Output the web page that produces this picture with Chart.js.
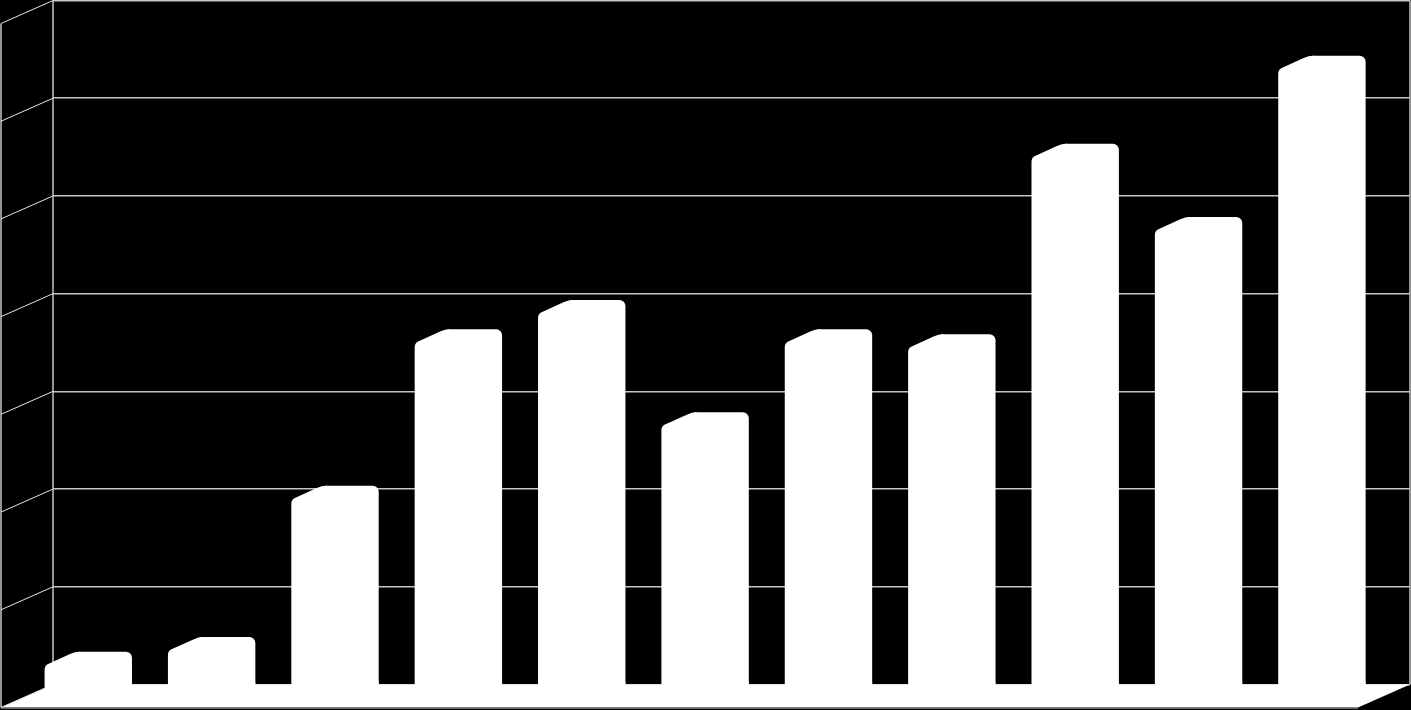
<!DOCTYPE html>
<html>
<head>
<meta charset="utf-8">
<style>
  html, body { margin: 0; padding: 0; background: #000; overflow: hidden; }
  canvas { display: block; }
</style>
<script src="https://cdn.jsdelivr.net/npm/chart.js@4"></script>
</head>
<body>
<canvas id="myChart" width="1411" height="710"></canvas>
<script>
// no labels are visible in the picture, categories are just positions
const categories = ['1', '2', '3', '4', '5', '6', '7', '8', '9', '10', '11'];
const values = [0.335, 0.485, 2.035, 3.635, 3.935, 2.785, 3.635, 3.585, 5.535, 4.785, 6.435];
const axisMax = 7;

const wallDx = -52, wallDy = 23;   // depth of the fake 3d box
const barShift = -11.2;            // bars sit in the middle of the floor
const sideDx = -30.4, sideDy = 14; // left side of each column

const box3d = {
    id: 'box3d',
    beforeDatasetsDraw(chart) {
        const { ctx, chartArea: a, scales: { y } } = chart;
        ctx.save();
        // floor
        ctx.fillStyle = '#fff';
        ctx.beginPath();
        ctx.moveTo(a.left, a.bottom);
        ctx.lineTo(a.right, a.bottom);
        ctx.lineTo(a.right + wallDx, a.bottom + wallDy);
        ctx.lineTo(a.left + wallDx, a.bottom + wallDy);
        ctx.closePath();
        ctx.fill();
        // walls
        ctx.strokeStyle = '#c4c4c4';
        ctx.lineWidth = 1.5;
        ctx.beginPath();
        ctx.moveTo(a.left, a.top);
        ctx.lineTo(a.left, a.bottom);
        ctx.moveTo(a.left + wallDx, a.top + wallDy);
        ctx.lineTo(a.left + wallDx, a.bottom + wallDy);
        ctx.moveTo(a.right, a.top);
        ctx.lineTo(a.right, a.bottom);
        ctx.stroke();
        ctx.strokeStyle = '#e6e6e6';
        ctx.lineWidth = 1;
        ctx.beginPath();
        y.ticks.forEach(t => {
            const py = y.getPixelForValue(t.value);
            ctx.moveTo(a.left, py);
            ctx.lineTo(a.left + wallDx, py + wallDy);
        });
        ctx.stroke();
        ctx.strokeStyle = '#666';
        ctx.beginPath();
        ctx.moveTo(a.left + wallDx, a.bottom + wallDy + 1);
        ctx.lineTo(a.right + wallDx, a.bottom + wallDy + 1);
        ctx.stroke();
        ctx.restore();
    },
    beforeDatasetDraw(chart) {
        chart.ctx.save();
        chart.ctx.translate(barShift, 0);
    },
    afterDatasetDraw(chart, args) {
        const ctx = chart.ctx;
        // still translated: add the slanted side to every bar
        ctx.fillStyle = '#fff';
        args.meta.data.forEach(el => {
            const x0 = el.x - el.width / 2;
            const xl = x0 + sideDx;
            ctx.beginPath();
            ctx.moveTo(x0 + 5, el.base - 2);
            ctx.lineTo(x0 + 5, el.y);
            ctx.quadraticCurveTo(x0, el.y, x0 - 5, el.y + 2.3);
            ctx.lineTo(xl + 3, el.y + sideDy - 1.5);
            ctx.quadraticCurveTo(xl, el.y + sideDy, xl, el.y + sideDy + 4);
            ctx.lineTo(xl, el.base + 5);
            ctx.lineTo(x0 + el.width, el.base + 5);
            ctx.lineTo(x0 + el.width, el.base - 2);
            ctx.closePath();
            ctx.fill();
        });
        ctx.restore();
    }
};

new Chart(document.getElementById('myChart').getContext('2d'), {
    type: 'bar',
    data: {
        labels: categories,
        datasets: [{
            data: values,
            backgroundColor: '#fff',
            borderWidth: 0,
            borderRadius: { topLeft: 4, topRight: 6, bottomLeft: 0, bottomRight: 0 },
            borderSkipped: false,
            barPercentage: 1,
            categoryPercentage: 57 / 123.36,
            clip: false
        }]
    },
    options: {
        responsive: false,
        animation: false,
        layout: { padding: { left: 53, right: 1, top: 0.5, bottom: 25.5 } },
        plugins: { legend: { display: false }, tooltip: { enabled: false } },
        scales: {
            x: { display: false },
            y: {
                min: 0,
                max: axisMax,
                afterFit(scale) { scale.width = 0; },
                ticks: { display: false, stepSize: 1 },
                border: { display: false },
                grid: { color: '#c4c4c4', lineWidth: 1.5, drawTicks: false }
            }
        }
    },
    plugins: [box3d]
});
</script>
</body>
</html>
